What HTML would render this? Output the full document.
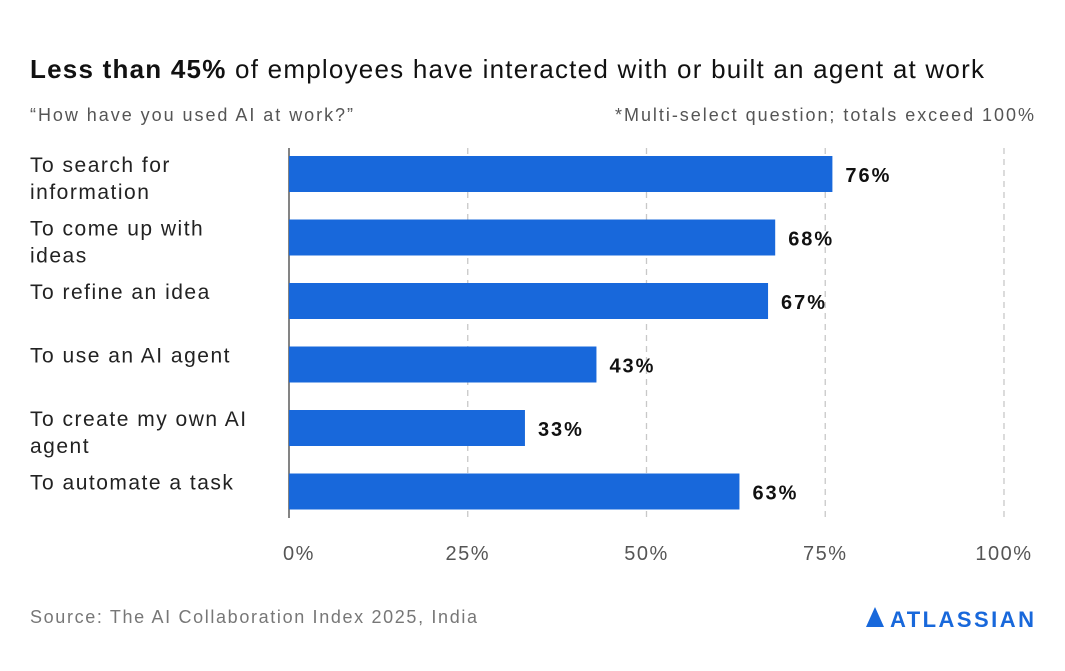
<!DOCTYPE html>
<html><head><meta charset="utf-8"><style>
body{margin:0;width:1065px;height:666px;background:#fff;font-family:"Liberation Sans",sans-serif;overflow:hidden}
</style></head><body>
<svg width="1065" height="666">
<text x="30" y="78" font-size="26" fill="#111" textLength="954" lengthAdjust="spacing"><tspan font-weight="bold">Less than 45%</tspan> of employees have interacted with or built an agent at work</text>
<text x="30" y="121" font-size="18" fill="#555" textLength="323" lengthAdjust="spacing">“How have you used AI at work?”</text>
<text x="615" y="121" font-size="18" fill="#555" textLength="419" lengthAdjust="spacing">*Multi-select question; totals exceed 100%</text>
<g id="plot"></g>
<text x="30" y="623" font-size="18" fill="#777" textLength="447" lengthAdjust="spacing">Source: The AI Collaboration Index 2025, India</text>
<g>
<path d="M866 627 L875 607 L884 627 Z" fill="#1868db"/>
<text x="890" y="627" font-size="22" font-weight="bold" fill="#1868db" textLength="144" lengthAdjust="spacing">ATLASSIAN</text>
</g>
</svg>
<script>
const categories=[["To search for","information"],["To come up with","ideas"],["To refine an idea"],["To use an AI agent"],["To create my own AI","agent"],["To automate a task"]];
const values=[76,68,67,43,33,63];
const ticks=[0,25,50,75,100];
const tickLabels=["0%","25%","50%","75%","100%"];
const NS="http://www.w3.org/2000/svg",g=document.getElementById("plot");
const x=v=>289+v*7.15, y0=156, step=63.5, bh=36;
function el(t,a){const e=document.createElementNS(NS,t);for(const k in a)e.setAttribute(k,a[k]);g.appendChild(e);return e;}
ticks.forEach((t,i)=>{
 if(t>0){const l=el("line",{x1:x(t),x2:x(t),y1:148,y2:518,stroke:"#c8c8c8","stroke-dasharray":"6,5","stroke-width":1.3});
 
 }
 const tx=el("text",{x:x(t)+(t===0?10:0),y:560,"font-size":20,fill:"#555","text-anchor":"middle","letter-spacing":"1.5"});tx.textContent=tickLabels[i];
 
 
});
const ax=el("line",{x1:289,x2:289,y1:148,y2:518,stroke:"#333","stroke-width":1.2});


values.forEach((v,i)=>{
 const y=y0+i*step;
 const r=el("rect",{x:289,y:y,width:x(v)-289,height:bh,fill:"#1868db"});
 
 
 const t=el("text",{x:x(v)+13,y:y+bh/2+8,"font-size":20,"font-weight":"bold",fill:"#111","letter-spacing":"2"});t.textContent=v+"%";
 
 
 const c=categories[i];
 c.forEach((s,j)=>{const lt=el("text",{x:30,y:y+16+j*27,"font-size":21,fill:"#222","letter-spacing":"1.5"});lt.textContent=s;
  
  });
});
</script>
</body></html>
